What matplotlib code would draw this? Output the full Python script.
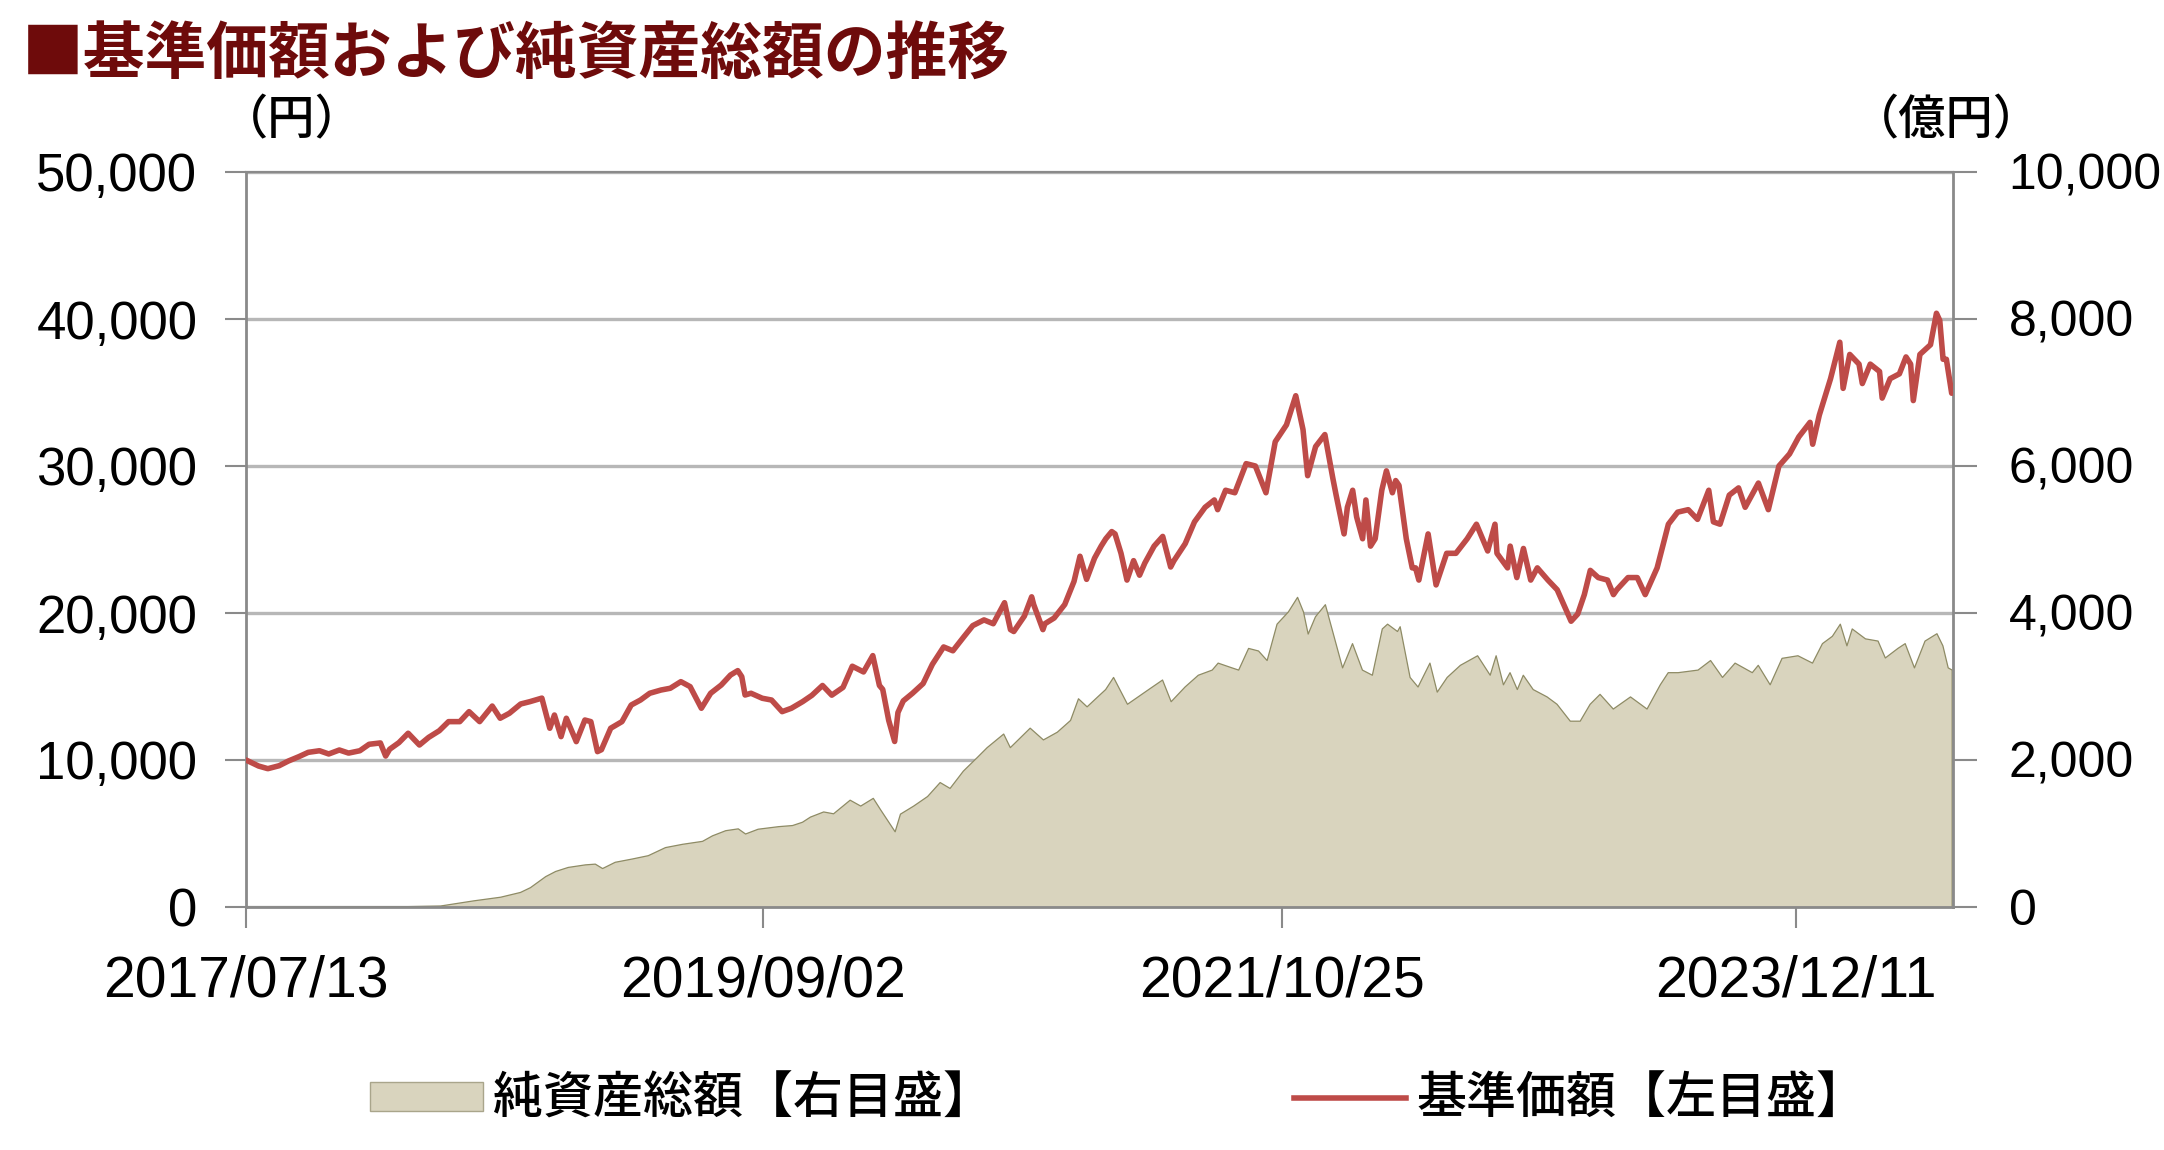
import matplotlib
matplotlib.use('Agg')
import matplotlib.pyplot as plt
import pandas as pd
from matplotlib.ticker import FuncFormatter
from matplotlib.patches import Patch
from matplotlib.lines import Line2D

# ---------------- data ----------------
nav_dates = [
    "2017-07-13", "2017-08-01", "2017-08-15", "2017-09-01", "2017-09-15", "2017-10-01", "2017-10-15",
    "2017-11-01", "2017-11-15", "2017-12-01", "2017-12-15", "2018-01-01", "2018-01-15", "2018-02-01",
    "2018-02-09", "2018-02-15", "2018-03-01", "2018-03-15", "2018-04-01", "2018-04-15", "2018-05-01",
    "2018-05-15", "2018-06-01", "2018-06-15", "2018-07-01", "2018-07-20", "2018-08-01", "2018-08-15",
    "2018-09-01", "2018-09-15", "2018-10-03", "2018-10-15", "2018-10-22", "2018-11-01", "2018-11-09",
    "2018-11-24", "2018-12-07", "2018-12-16", "2018-12-26", "2019-01-01", "2019-01-15", "2019-02-01",
    "2019-02-15", "2019-03-01", "2019-03-15", "2019-04-01", "2019-04-15", "2019-05-01", "2019-05-15",
    "2019-06-01", "2019-06-15", "2019-07-01", "2019-07-15", "2019-07-26", "2019-08-01", "2019-08-06",
    "2019-08-15", "2019-09-01", "2019-09-15", "2019-10-01", "2019-10-15", "2019-11-01", "2019-11-15",
    "2019-12-01", "2019-12-15", "2020-01-01", "2020-01-15", "2020-02-01", "2020-02-15", "2020-02-25",
    "2020-03-01", "2020-03-10", "2020-03-19", "2020-03-24", "2020-04-01", "2020-04-15", "2020-05-01",
    "2020-05-15", "2020-06-01", "2020-06-15", "2020-07-01", "2020-07-15", "2020-08-01", "2020-08-15",
    "2020-09-01", "2020-09-10", "2020-09-15", "2020-10-01", "2020-10-12", "2020-10-15", "2020-10-29",
    "2020-11-01", "2020-11-15", "2020-12-01", "2020-12-15", "2020-12-24", "2021-01-03", "2021-01-15",
    "2021-01-25", "2021-02-01", "2021-02-10", "2021-02-15", "2021-02-24", "2021-03-05", "2021-03-15",
    "2021-03-24", "2021-04-01", "2021-04-15", "2021-04-28", "2021-05-10", "2021-05-15", "2021-06-01",
    "2021-06-15", "2021-07-01", "2021-07-15", "2021-07-20", "2021-08-01", "2021-08-15", "2021-09-01",
    "2021-09-15", "2021-10-01", "2021-10-15", "2021-11-01", "2021-11-15", "2021-11-26", "2021-12-03",
    "2021-12-15", "2021-12-29", "2022-01-10", "2022-01-15", "2022-01-27", "2022-02-01", "2022-02-09",
    "2022-02-15", "2022-02-24", "2022-03-01", "2022-03-08", "2022-03-15", "2022-03-25", "2022-04-01",
    "2022-04-10", "2022-04-15", "2022-04-20", "2022-05-01", "2022-05-10", "2022-05-15", "2022-05-20",
    "2022-06-03", "2022-06-15", "2022-07-01", "2022-07-15", "2022-08-01", "2022-08-15", "2022-09-01",
    "2022-09-12", "2022-09-15", "2022-10-01", "2022-10-05", "2022-10-15", "2022-10-25", "2022-11-05",
    "2022-11-15", "2022-12-01", "2022-12-15", "2023-01-05", "2023-01-15", "2023-01-25", "2023-02-03",
    "2023-02-15", "2023-03-01", "2023-03-10", "2023-03-15", "2023-04-01", "2023-04-15", "2023-04-27",
    "2023-05-15", "2023-06-01", "2023-06-15", "2023-07-01", "2023-07-15", "2023-08-01", "2023-08-08",
    "2023-08-18", "2023-09-01", "2023-09-15", "2023-09-25", "2023-10-15", "2023-10-30", "2023-11-15",
    "2023-12-01", "2023-12-15", "2024-01-01", "2024-01-05", "2024-01-15", "2024-02-01", "2024-02-15",
    "2024-02-20", "2024-03-01", "2024-03-15", "2024-03-20", "2024-04-01", "2024-04-15", "2024-04-19",
    "2024-05-01", "2024-05-15", "2024-05-25", "2024-06-01", "2024-06-05", "2024-06-15", "2024-07-01",
    "2024-07-10", "2024-07-15", "2024-07-20", "2024-07-25", "2024-08-01", "2024-08-02",
]
nav_values = [
    10000, 9590, 9410, 9610, 9930, 10230, 10520,
    10630, 10410, 10680, 10470, 10630, 11070, 11160,
    10270, 10730, 11180, 11820, 11020, 11540, 11990,
    12610, 12610, 13290, 12610, 13670, 12840, 13180,
    13810, 13970, 14210, 12160, 13060, 11590, 12840,
    11250, 12720, 12610, 10570, 10700, 12160, 12610,
    13740, 14080, 14540, 14760, 14880, 15330, 14990,
    13520, 14540, 15100, 15780, 16080, 15670, 14420,
    14540, 14200, 14080, 13290, 13520, 13970, 14400,
    15070, 14410, 14940, 16380, 15990, 17100, 15070,
    14800, 12700, 11260, 13230, 14020, 14540, 15200,
    16510, 17690, 17430, 18350, 19140, 19530, 19270,
    20700, 18870, 18740, 19790, 21100, 20580, 18870,
    19270, 19660, 20580, 22150, 23860, 22290, 23730,
    24550, 25050, 25540, 25380, 24060, 22240, 23560,
    22570, 23400, 24550, 25210, 23130, 23560, 24720,
    26200, 27190, 27690, 27030, 28350, 28180, 30160,
    30000, 28180, 31650, 32800, 34780, 32470, 29340,
    31320, 32140, 29170, 28020, 25380, 27190, 28350,
    26530, 25050, 27690, 24550, 25050, 28350, 29670,
    28180, 29010, 28680, 25050, 23070, 23070, 22240,
    25380, 21910, 24060, 24060, 25050, 26040, 24220,
    26040, 24060, 23070, 24550, 22410, 24390, 22240,
    23070, 22240, 21580, 19440, 19930, 21250, 22900,
    22410, 22240, 21250, 21580, 22410, 22410, 21250,
    23070, 26040, 26860, 27030, 26370, 28350, 26200,
    26040, 28020, 28510, 27190, 28840, 27030, 30000,
    30820, 31980, 32970, 31480, 33460, 35940, 38420,
    35280, 37590, 36930, 35610, 36930, 36430, 34620,
    35940, 36270, 37420, 36930, 34450, 37590, 38250,
    40390, 39900, 37260, 37260, 35280, 34950,
]

aum_dates = [
    "2017-07-13", "2017-10-01", "2018-01-01", "2018-03-03", "2018-05-02", "2018-06-21", "2018-08-01",
    "2018-08-31", "2018-09-15", "2018-10-08", "2018-10-23", "2018-11-11", "2018-12-07", "2018-12-22",
    "2019-01-02", "2019-01-21", "2019-02-16", "2019-03-12", "2019-04-07", "2019-05-03", "2019-06-02",
    "2019-06-17", "2019-07-07", "2019-07-26", "2019-08-06", "2019-08-25", "2019-09-25", "2019-10-16",
    "2019-10-31", "2019-11-12", "2019-12-02", "2019-12-17", "2020-01-11", "2020-01-27", "2020-02-15",
    "2020-02-26", "2020-03-19", "2020-03-27", "2020-04-16", "2020-05-07", "2020-05-26", "2020-06-10",
    "2020-06-30", "2020-07-21", "2020-08-05", "2020-08-30", "2020-09-09", "2020-10-09", "2020-10-29",
    "2020-11-19", "2020-12-09", "2020-12-21", "2021-01-03", "2021-01-19", "2021-01-31", "2021-02-12",
    "2021-03-05", "2021-03-21", "2021-04-06", "2021-04-27", "2021-05-10", "2021-05-31", "2021-06-20",
    "2021-07-11", "2021-07-20", "2021-08-10", "2021-08-20", "2021-09-04", "2021-09-19", "2021-10-02",
    "2021-10-17", "2021-11-03", "2021-11-17", "2021-11-26", "2021-12-03", "2021-12-14", "2021-12-29",
    "2022-01-08", "2022-01-24", "2022-02-08", "2022-02-23", "2022-03-10", "2022-03-25", "2022-04-02",
    "2022-04-17", "2022-04-21", "2022-05-06", "2022-05-18", "2022-06-05", "2022-06-16", "2022-07-01",
    "2022-07-21", "2022-08-16", "2022-09-04", "2022-09-13", "2022-09-24", "2022-10-04", "2022-10-15",
    "2022-10-24", "2022-11-08", "2022-11-29", "2022-12-14", "2023-01-03", "2023-01-18", "2023-02-02",
    "2023-02-17", "2023-03-09", "2023-04-04", "2023-04-29", "2023-05-19", "2023-05-31", "2023-06-15",
    "2023-07-15", "2023-08-03", "2023-08-21", "2023-09-09", "2023-10-05", "2023-10-14", "2023-11-01",
    "2023-11-19", "2023-12-13", "2024-01-04", "2024-01-19", "2024-02-03", "2024-02-15", "2024-02-25",
    "2024-03-04", "2024-03-24", "2024-04-12", "2024-04-23", "2024-05-12", "2024-05-23", "2024-06-06",
    "2024-06-22", "2024-07-10", "2024-07-19", "2024-07-27", "2024-08-02",
]
aum_values = [
    1, 3, 6, 10, 20, 90, 140,
    205, 270, 420, 490, 545, 580, 590,
    530, 615, 660, 705, 815, 860, 900,
    975, 1045, 1070, 1000, 1065, 1100, 1115,
    1160, 1230, 1300, 1275, 1460, 1380, 1485,
    1330, 1030, 1270, 1380, 1510, 1700, 1620,
    1855, 2040, 2175, 2360, 2175, 2440, 2280,
    2385, 2545, 2840, 2730, 2865, 2965, 3130,
    2765, 2865, 2965, 3095, 2800, 3000, 3160,
    3230, 3325, 3260, 3230, 3525, 3490, 3360,
    3855, 4020, 4220, 4020, 3720, 3955, 4120,
    3790, 3260, 3590, 3230, 3160, 3790, 3855,
    3755, 3820, 3130, 3000, 3325, 2930, 3130,
    3295, 3425, 3160, 3425, 3030, 3195, 2965,
    3160, 2965, 2865, 2765, 2535, 2535, 2765,
    2900, 2700, 2865, 2700, 3030, 3195, 3195,
    3230, 3360, 3130, 3325, 3195, 3295, 3030,
    3390, 3425, 3325, 3590, 3690, 3855, 3560,
    3790, 3655, 3625, 3395, 3525, 3590, 3260,
    3625, 3725, 3560, 3260, 3230,
]

x_tick_dates = ["2017-07-13", "2019-09-02", "2021-10-25", "2023-12-11"]
x_tick_labels = ["2017/07/13", "2019/09/02", "2021/10/25", "2023/12/11"]
left_ticks = [0, 10000, 20000, 30000, 40000, 50000]
right_ticks = [0, 2000, 4000, 6000, 8000, 10000]

title_text = "■基準価額および純資産総額の推移"
left_unit = "（円）"
right_unit = "（億円）"
legend_labels = ["純資産総額【右目盛】", "基準価額【左目盛】"]

# ---------------- style ----------------
plt.rcParams['font.family'] = ['Liberation Sans', 'Noto Sans CJK JP', 'DejaVu Sans']
JP = ['Noto Sans CJK JP', 'DejaVu Sans']
W, H = 2164, 1150
AXIS_GRAY = '#8A8A8A'
GRID_GRAY = '#B7B7B7'
NAV_COLOR = '#BE4B48'
AUM_FILL = '#D9D4BE'
AUM_EDGE = '#8E8B65'

fig = plt.figure(figsize=(W / 100, H / 100), dpi=100)
fig.patch.set_facecolor('white')
ax = fig.add_axes([246 / W, 1 - 907 / H, (1953 - 246) / W, (907 - 172) / H])
ax2 = ax.twinx()

nav_d = pd.to_datetime(nav_dates)
aum_d = pd.to_datetime(aum_dates)

# AUM area on the right axis
ax2.fill_between(aum_d, aum_values, 0, facecolor=AUM_FILL, edgecolor=AUM_EDGE,
                 linewidth=0.9, zorder=2)
ax2.set_ylim(0, 10000)
ax2.set_yticks(right_ticks)
ax2.yaxis.set_major_formatter(FuncFormatter(lambda v, p: f"{int(v):,}"))
ax2.set_axisbelow(True)
ax2.yaxis.grid(True, color=GRID_GRAY, linewidth=2.4)
for s in ax2.spines.values():
    s.set_visible(False)
ax2.tick_params(axis='y', direction='out', length=17, width=1.5, color=AXIS_GRAY,
                labelsize=36, pad=23)

# NAV line on the left axis (on top)
ax.set_zorder(ax2.get_zorder() + 1)
ax.patch.set_visible(False)
ax.plot(nav_d, nav_values, color=NAV_COLOR, linewidth=4.0, solid_joinstyle='round',
        solid_capstyle='round', zorder=3)
ax.set_ylim(0, 50000)
ax.set_yticks(left_ticks)
ax.yaxis.set_major_formatter(FuncFormatter(lambda v, p: f"{int(v):,}"))
ax.set_xlim(pd.Timestamp("2017-07-13"), pd.Timestamp("2024-08-04"))
ax.set_xticks(pd.to_datetime(x_tick_dates))
ax.set_xticklabels(x_tick_labels)
ax.tick_params(axis='y', direction='out', length=15, width=1.5, color=AXIS_GRAY,
               labelsize=38, pad=20)
ax.tick_params(axis='x', direction='out', length=15, width=1.5, color=AXIS_GRAY,
               labelsize=41, pad=19)
for name, s in ax.spines.items():
    s.set_color(AXIS_GRAY)
    s.set_linewidth(2.0 if name != 'top' else 1.6)

# titles and units
fig.text(22 / W, 1 - 54 / H, title_text, fontsize=44.5, fontweight='bold', color='#6E0B0B',
         family=JP, ha='left', va='center')
fig.text(292 / W, 1 - 121 / H, left_unit, fontsize=34, fontweight='medium', family=JP,
         ha='center', va='center')
fig.text(1946 / W, 1 - 121 / H, right_unit, fontsize=34, fontweight='medium', family=JP,
         ha='center', va='center')

# legend
handles = [Patch(facecolor=AUM_FILL, edgecolor='#A9A58B', linewidth=1.0),
           Line2D([], [], color=NAV_COLOR, linewidth=4)]
fig.legend(handles, legend_labels, loc='center left', bbox_to_anchor=(370 / W, 1 - 1100 / H),
           ncol=2, frameon=False, prop={'family': JP, 'size': 36, 'weight': 'medium'},
           handlelength=2.25, handleheight=0.52, handletextpad=0.22, columnspacing=6.0,
           borderpad=0, borderaxespad=0)

fig.savefig('out.png', dpi=100, facecolor='white')
